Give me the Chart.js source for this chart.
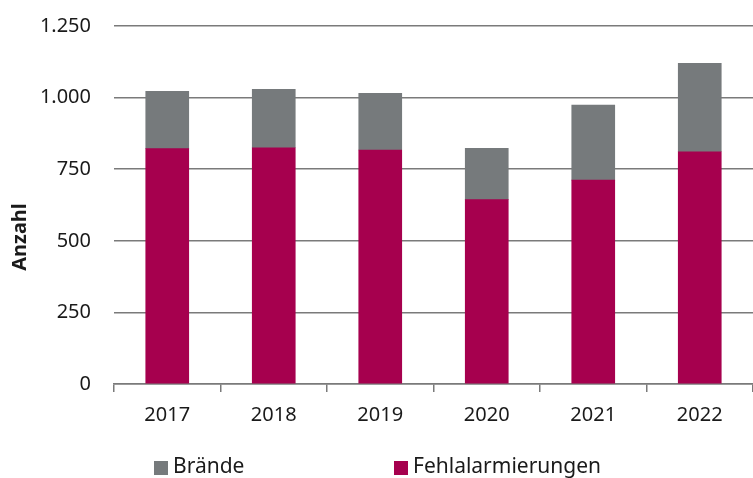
<!DOCTYPE html>
<html lang="de">
<head>
<meta charset="utf-8">
<title>Brände und Fehlalarmierungen</title>
<script src="https://cdn.jsdelivr.net/npm/chart.js@4/dist/chart.umd.min.js"></script>
<style>
    html, body { margin: 0; padding: 0; background: #ffffff; }
    #wrap { width: 753px; height: 478px; }
</style>
</head>
<body>
<div id="wrap"><canvas id="einsatzChart" width="753" height="478"></canvas></div>
<script>
// Daten
const jahre = ['2017', '2018', '2019', '2020', '2021', '2022'];
const fehlalarmierungen = [822, 825, 817, 644, 712, 811];
const braende = [200, 204, 198, 179, 262, 309];
const yTicks = [0, 250, 500, 750, 1000, 1250];

const FARBE_GRAU = '#767a7c';
const FARBE_ROT = '#a6004e';
const TEXT_FARBE = '#1a1a1a';
const LINIEN_FARBE = '#7a7a7a';
const SCHRIFT = '"Noto Sans", "Open Sans", sans-serif';

/**
 * Legende und Achsentitel selbst zeichnen
 */
const legendePlugin = {
    id: 'legendePlugin',
    afterDraw(chart) {
        const ctx = chart.ctx;
        ctx.save();

        // Achsentitel links
        ctx.translate(20, 237);
        ctx.rotate(-Math.PI / 2);
        ctx.font = 'bold 20px ' + SCHRIFT;
        ctx.fillStyle = TEXT_FARBE;
        ctx.textAlign = 'center';
        ctx.textBaseline = 'middle';
        ctx.fillText('Anzahl', 0, 0);
        ctx.restore();

        // Legende unten
        const eintraege = [
            { text: 'Brände', farbe: FARBE_GRAU, x: 154 },
            { text: 'Fehlalarmierungen', farbe: FARBE_ROT, x: 394 }
        ];
        ctx.save();
        ctx.font = '21px ' + SCHRIFT;
        ctx.textBaseline = 'middle';
        ctx.textAlign = 'left';
        eintraege.forEach(e => {
            ctx.fillStyle = e.farbe;
            ctx.fillRect(e.x, 461, 14, 14);
            ctx.fillStyle = TEXT_FARBE;
            ctx.fillText(e.text, e.x + 19, 467);
        });
        ctx.restore();
    }
};

function initEinsatzChart() {
    const ctx = document.getElementById('einsatzChart').getContext('2d');

    new Chart(ctx, {
        type: 'bar',
        data: {
            labels: jahre,
            datasets: [{
                label: 'Fehlalarmierungen',
                data: fehlalarmierungen,
                backgroundColor: FARBE_ROT,
                barThickness: 43
            }, {
                label: 'Brände',
                data: braende,
                backgroundColor: FARBE_GRAU,
                barThickness: 43
            }]
        },
        options: {
            responsive: false,
            animation: false,
            layout: {
                padding: { top: 26, right: 0, bottom: 0, left: 0 }
            },
            plugins: {
                legend: { display: false },
                tooltip: { enabled: false }
            },
            scales: {
                x: {
                    stacked: true,
                    grid: {
                        offset: true,
                        drawOnChartArea: false,
                        drawTicks: true,
                        tickLength: 8,
                        color: LINIEN_FARBE,
                        lineWidth: 1.5
                    },
                    border: { color: LINIEN_FARBE, width: 1.5 },
                    ticks: {
                        color: TEXT_FARBE,
                        font: { family: SCHRIFT, size: 20 },
                        padding: 11
                    },
                    afterFit: function(scale) {
                        scale.height = 94;
                    }
                },
                y: {
                    stacked: true,
                    min: 0,
                    max: 1250,
                    afterBuildTicks: function(scale) {
                        scale.ticks = yTicks.map(v => ({ value: v }));
                    },
                    grid: {
                        drawTicks: false,
                        color: LINIEN_FARBE,
                        lineWidth: 1.5
                    },
                    border: { display: false },
                    ticks: {
                        color: TEXT_FARBE,
                        font: { family: SCHRIFT, size: 20 },
                        padding: 23,
                        callback: function(value) {
                            return value.toLocaleString('de-DE');
                        }
                    },
                    afterFit: function(scale) {
                        // Tick-Abstand soll nicht als Rand oben/unten zählen
                        scale.width = 114;
                        scale.paddingTop = 0;
                        scale.paddingBottom = 0;
                    }
                }
            }
        },
        plugins: [legendePlugin]
    });
}

document.addEventListener('DOMContentLoaded', initEinsatzChart);
</script>
</body>
</html>
